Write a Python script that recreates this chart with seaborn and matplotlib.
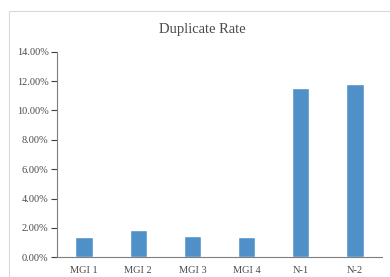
import matplotlib
matplotlib.use("Agg")
import matplotlib.pyplot as plt
import seaborn as sns
import pandas as pd
from matplotlib.patches import Rectangle
from matplotlib.ticker import FuncFormatter, MultipleLocator

categories = ["MGI 1", "MGI 2", "MGI 3", "MGI 4", "N-1", "N-2"]
rates = [1.40, 1.86, 1.45, 1.40, 11.53, 11.82]

sns.set_style("white")
plt.rcParams['font.family'] = ['Liberation Serif', 'DejaVu Serif']

df = pd.DataFrame({"cat": categories, "rate": rates})

fig = plt.figure(figsize=(3.9, 2.77), dpi=100)
fig.patches.append(Rectangle((9/390, -0.5), 2.0, 1 - 11/277 + 0.5, transform=fig.transFigure,
                             fill=False, edgecolor="#d9d9d9", linewidth=0.8, zorder=0))
ax = fig.add_axes([57/390, 1 - 257.3/277, (382 - 57)/390, (257.3 - 51.7)/277])
sns.barplot(data=df, x="cat", y="rate", color="#4F90C8", saturation=1, width=0.32, ax=ax)
ax.set_xlim(-0.5, 5.5)
ax.set_ylim(0, 14)
ax.yaxis.set_major_locator(MultipleLocator(2))
ax.yaxis.set_major_formatter(FuncFormatter(lambda v, p: f"{v:.2f}%"))
ax.set_xlabel("")
ax.set_ylabel("")
for s in ["top", "right"]:
    ax.spines[s].set_visible(False)
ax.spines["left"].set_color("#7f7f7f")
ax.spines["bottom"].set_color("#7f7f7f")
ax.spines["left"].set_linewidth(0.8)
ax.spines["bottom"].set_linewidth(0.8)
ax.tick_params(axis="y", left=True, length=4, width=0.8, color="#404040", labelsize=7.5, labelcolor="#4a4a4a", pad=2)
ax.tick_params(axis="x", bottom=False, labelsize=7.5, labelcolor="#4a4a4a", pad=3)
ax.set_facecolor("none")
fig.text(202/390, 1 - 30/277, "Duplicate Rate", ha="center", va="center",
         fontsize=10.5, color="#4a4a4a")
fig.savefig("out.png", dpi=100)
